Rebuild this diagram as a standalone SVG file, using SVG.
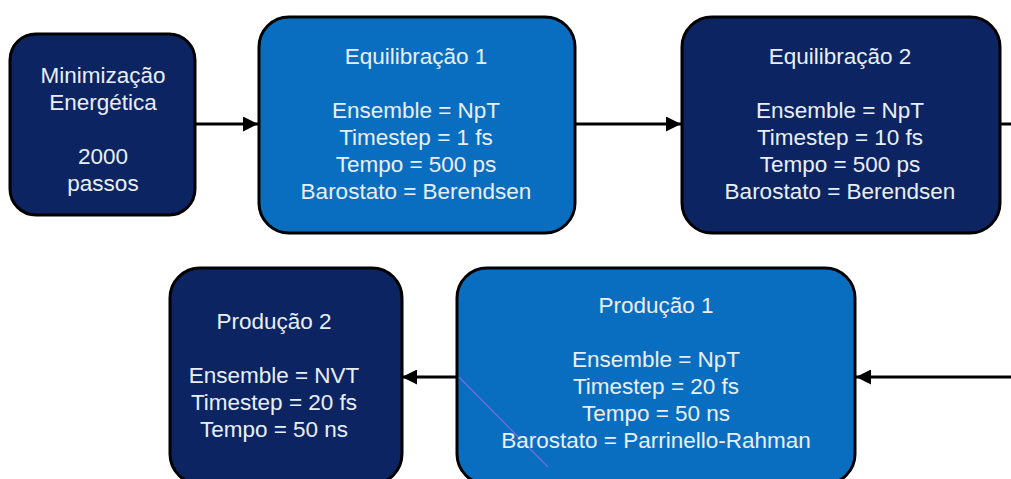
<svg xmlns="http://www.w3.org/2000/svg" width="1011" height="479" viewBox="0 0 1011 479">
<style>
.bx{stroke:#000;stroke-width:3}
.dk{fill:#0c2462}
.lt{fill:#0a6ec0}
text{font-family:"Liberation Sans",Arial,sans-serif;font-size:22.5px;fill:#e9eff8;text-anchor:middle}
.cn{stroke:#000;stroke-width:3;fill:none}
</style>
<defs>
<marker id="ah" viewBox="0 0 10 10" refX="10" refY="5" markerWidth="5" markerHeight="5" markerUnits="strokeWidth" orient="auto">
<path d="M0,0 L10,5 L0,10 Z" fill="#000"/>
</marker>
</defs>
<rect width="1011" height="479" fill="#fff"/>
<g id="connectors">
<line class="cn" x1="195" y1="124" x2="258" y2="124" marker-end="url(#ah)"/>
<line class="cn" x1="575" y1="124" x2="681" y2="124" marker-end="url(#ah)"/>
<line class="cn" x1="1000" y1="124" x2="1011" y2="124"/>
<line class="cn" x1="1011" y1="377" x2="856" y2="377" marker-end="url(#ah)"/>
<line class="cn" x1="457" y1="377" x2="402" y2="377" marker-end="url(#ah)"/>
</g>
<g id="n1">
<rect class="bx dk" x="10" y="34" width="185" height="181" rx="26"/>
<text x="103" y="83">Minimização</text>
<text x="103" y="110">Energética</text>
<text x="103" y="164">2000</text>
<text x="103" y="191">passos</text>
</g>
<g id="n2">
<rect class="bx lt" x="259" y="17" width="316" height="216" rx="30"/>
<text x="416" y="64">Equilibração 1</text>
<text x="416" y="118">Ensemble = NpT</text>
<text x="416" y="145">Timestep = 1 fs</text>
<text x="416" y="172">Tempo = 500 ps</text>
<text x="416" y="199">Barostato = Berendsen</text>
</g>
<g id="n3">
<rect class="bx dk" x="682" y="17" width="318" height="216" rx="30"/>
<text x="840" y="64">Equilibração 2</text>
<text x="840" y="118">Ensemble = NpT</text>
<text x="840" y="145">Timestep = 10 fs</text>
<text x="840" y="172">Tempo = 500 ps</text>
<text x="840" y="199">Barostato = Berendsen</text>
</g>
<g id="n4">
<rect class="bx lt" x="457" y="268" width="398" height="216" rx="30"/>
<line x1="459" y1="377" x2="548" y2="467" stroke="#7a6ad8" stroke-width="1.2"/>
<text x="656" y="313">Produção 1</text>
<text x="656" y="367">Ensemble = NpT</text>
<text x="656" y="394">Timestep = 20 fs</text>
<text x="656" y="421">Tempo = 50 ns</text>
<text x="656" y="448">Barostato = Parrinello-Rahman</text>
</g>
<g id="n5">
<rect class="bx dk" x="170" y="268" width="232" height="216" rx="30"/>
<text x="274" y="329">Produção 2</text>
<text x="274" y="383">Ensemble = NVT</text>
<text x="274" y="410">Timestep = 20 fs</text>
<text x="274" y="437">Tempo = 50 ns</text>
</g>
</svg>
